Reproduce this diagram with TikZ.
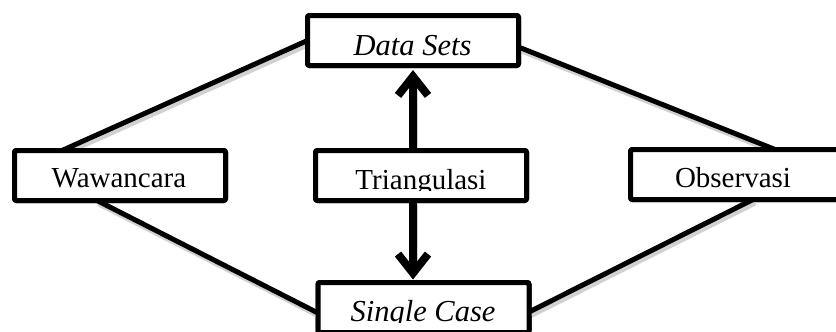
\documentclass[tikz,border=0pt]{standalone}
\usepackage{fontspec}
\setmainfont{Liberation Serif}
\usetikzlibrary{arrows.meta,calc}
\begin{document}
\begin{tikzpicture}[x=1pt,y=-1pt,
  box/.style={draw=black, line width=5pt, rounded corners=2pt, fill=white,
    minimum width=211pt, minimum height=50pt, inner sep=0pt, outer sep=0pt},
  lbl/.style={anchor=base, inner sep=0pt, font=\fontsize{29}{34}\selectfont},
  ilbl/.style={lbl, font=\fontsize{30.5}{36}\selectfont\itshape},
  conn/.style={line width=5pt, black},
  arr/.style={line width=8pt, black, -{Straight Barb[length=19pt,width=30pt]}},
  shade/.style={line width=6pt, black!18}
]
\useasboundingbox (0,0) rectangle (836,332);
% boxes
\node[box] (ds) at (413,40.5) {};
\node[box] (tr) at (421,175.5) {};
\node[box] (wa) at (120,175.5) {};
\node[box] (ob) at (736,174.5) {};
\node[box] (sc) at (423.5,307.5) {};
% connector end points
\coordinate (l1a) at (ds.west);
\coordinate (l1b) at ([xshift=47.5pt]wa.north west);
\coordinate (l2a) at ([yshift=-6.5pt]ds.east);
\coordinate (l2b) at ([xshift=144.5pt]ob.north west);
\coordinate (l3a) at ([xshift=82.5pt]wa.south west);
\coordinate (l3b) at ([yshift=-30.5pt]sc.north west);
\coordinate (l4a) at ([xshift=122.5pt]ob.south west);
\coordinate (l4b) at ([yshift=-29.5pt]sc.north east);
\coordinate (aup) at ([yshift=-4.5pt]ds.south);
\coordinate (adn) at ([yshift=3pt]sc.north -| ds.south);
% shadows
\begin{scope}[transform canvas={shift={(2pt,-3pt)}}]
  \draw[shade] (l1a) -- (l1b);
  \draw[shade] (l2a) -- (l2b);
  \draw[shade] (l3a) -- (l3b);
  \draw[shade] (l4a) -- (l4b);
  \draw[shade] (tr.north -| ds.south) -- ([yshift=-8pt]aup);
  \draw[shade] (tr.south -| ds.south) -- ([yshift=8pt]adn);
\end{scope}
% connectors
\draw[conn] (l1a) -- (l1b);
\draw[conn] (l2a) -- (l2b);
\draw[conn] (l3a) -- (l3b);
\draw[conn] (l4a) -- (l4b);
\draw[arr] (tr.north -| ds.south) -- (aup);
\draw[arr] (tr.south -| ds.south) -- (adn);
% redraw boxes borders on top
\node[box] at (ds) {};
\node[box] at (tr) {};
\node[box] at (wa) {};
\node[box] at (ob) {};
\node[box] at (sc) {};
% labels
\node[ilbl] (dst) at (412.5,55) {Data Sets};
\begin{scope}
  \clip (300,150) rectangle (540,190.5);
  \node[lbl] (trt) at (421,189) {Triangulasi};
\end{scope}
\node[lbl] (wat) at (119,187) {Wawancara};
\node[lbl] (obt) at (733,187) {Observasi};
\begin{scope}
  \clip (300,285) rectangle (540,322);
  \node[ilbl] (sct) at (423,321) {Single Case};
\end{scope}
\end{tikzpicture}
\end{document}
